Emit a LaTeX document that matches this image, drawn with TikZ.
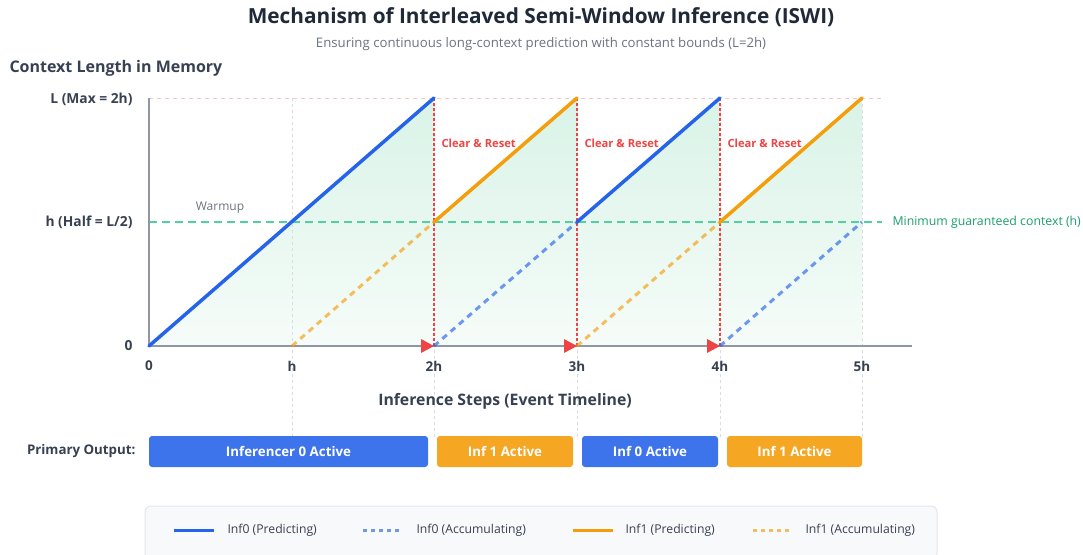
\documentclass[tikz,border=0pt]{standalone}
\usepackage{fontspec}
\setmainfont{Open Sans}
\usetikzlibrary{calc}
\definecolor{txtdark}{HTML}{1F2937}
\definecolor{txtmid}{HTML}{374151}
\definecolor{txtgray}{HTML}{6B7280}
\definecolor{blueC}{HTML}{2563EB}
\definecolor{orangeC}{HTML}{F59E0B}
\definecolor{boxblue}{HTML}{3D74EB}
\definecolor{boxorange}{HTML}{F5A623}
\definecolor{greenL}{HTML}{4FD1A0}
\definecolor{greenT}{HTML}{1A9E6A}
\definecolor{redC}{HTML}{EF4444}
\definecolor{pinkL}{HTML}{F9C4C4}
\definecolor{axisC}{HTML}{9096A3}
\definecolor{gridC}{HTML}{D9DCE1}
\definecolor{fillTop}{HTML}{D9F3E7}
\definecolor{fillBot}{HTML}{F6FCF9}
\definecolor{legBg}{HTML}{F8F9FB}
\definecolor{legBd}{HTML}{E3E6EA}
\tikzset{
  pred/.style={line width=3.5pt, line cap=round},
  accum/.style={line width=3pt, dash pattern=on 6pt off 5pt, opacity=0.65},
  reset/.style={redC, line width=1.6pt, dash pattern=on 3pt off 2pt},
  grid/.style={gridC, line width=0.8pt, dash pattern=on 3pt off 3pt},
  ylab/.style={anchor=east, font=\bfseries\fontsize{13.8}{15}\selectfont, text=txtmid},
  xlab/.style={anchor=center, font=\bfseries\fontsize{13.5}{15}\selectfont, text=txtmid},
  clr/.style={anchor=west, font=\bfseries\fontsize{11.2}{12}\selectfont, text=redC},
  actbox/.style={rounded corners=3pt, minimum height=31pt, inner sep=0pt, text=white, font=\bfseries\fontsize{13.3}{15}\selectfont},
  legtxt/.style={anchor=west, font=\fontsize{12.2}{13}\selectfont, text=txtmid},
  arrtri/.style={fill=redC}
}
\begin{document}
\begin{tikzpicture}[x=1pt,y=-1pt]
\useasboundingbox (0,0) rectangle (1083,554);
% key coordinates
\coordinate (o) at (149,346);
\foreach \n/\x in {0/149,1/292,2/434,3/577,4/720,5/862}{
  \coordinate (b\n) at (\x,346);
  \coordinate (m\n) at (\x,222);
  \coordinate (t\n) at (\x,98);
}
% fill
\shade[top color=fillTop, bottom color=fillBot]
  (b0) -- (t2) -- (m2) -- (t3) -- (m3) -- (t4) -- (m4) -- (t5) -- (b5) -- cycle;
% grid verticals
\foreach \n in {1,2,3,4,5}{
  \draw[grid] (t\n) -- ++(0,339);
}
% top dashed line
\coordinate (tEnd) at (882,98);
\draw[pinkL, line width=1pt, dash pattern=on 4pt off 4pt] (t0) -- (tEnd);
% green dashed line
\coordinate (gEnd) at (882,222);
\draw[greenL, line width=1.6pt, dash pattern=on 8pt off 5pt] (m0) -- (gEnd);
\node[anchor=west, text=greenT, font=\fontsize{12.3}{14}\selectfont] (mingc) at (889,222) {Minimum guaranteed context (h)};
% axes
\coordinate (xEnd) at (912,346);
\draw[axisC, line width=2pt] (t0) -- (b0) -- (xEnd);
% reset lines
\foreach \n in {2,3,4}{
  \draw[reset] (t\n) -- (b\n);
  \fill[arrtri] (b\n) -- ++(-13,-7) -- ++(0,14) -- cycle;
  \node[clr] (clr\n) at ($(t\n)+(4,45)$) {Clear \& Reset};
}
% accumulating
\draw[accum, orangeC] (b1) -- (m2);
\draw[accum, blueC] (b2) -- (m3);
\draw[accum, orangeC] (b3) -- (m4);
\draw[accum, blueC] (b4) -- (m5);
% predicting
\draw[pred, blueC] (b0) -- (t2);
\draw[pred, orangeC] (m2) -- (t3);
\draw[pred, blueC] (m3) -- (t4);
\draw[pred, orangeC] (m4) -- (t5);
% labels
\node[anchor=center, text=txtgray, font=\fontsize{12}{14}\selectfont] (warm) at (220,208) {Warmup};
\node[ylab] (yL) at (136,99) {L (Max = 2h)};
\node[ylab] (yh) at (136,222) {h (Half = L/2)};
\node[ylab] (y0) at (136,346) {0};
\foreach \n/\l in {0/0,1/h,2/2h,3/3h,4/4h,5/5h}{
  \node[xlab] (xl\n) at ($(b\n)+(0,20)$) {\l};
}
\node[font=\bfseries\fontsize{15.8}{18}\selectfont, text=txtmid] (xtitle) at (505,401) {Inference Steps (Event Timeline)};
\node[anchor=west, font=\bfseries\fontsize{16}{18}\selectfont, text=txtmid] (ytitle) at (6,68) {Context Length in Memory};
\node[font=\bfseries\fontsize{20.8}{24}\selectfont, text=txtdark] (title) at (541,17) {Mechanism of Interleaved Semi-Window Inference (ISWI)};
\node[font=\fontsize{13.2}{15}\selectfont, text=txtgray] (sub) at (541,44) {Ensuring continuous long-context prediction with constant bounds (L=2h)};
% primary output
\node[anchor=east, font=\bfseries\fontsize{13.3}{15}\selectfont, text=txtmid] (po) at (139,451) {Primary Output:};
\node[actbox, fill=boxblue, minimum width=279pt] (a1) at (288.5,451.5) {Inferencer 0 Active};
\node[actbox, fill=boxorange, minimum width=136pt] (a2) at (505,451.5) {Inf 1 Active};
\node[actbox, fill=boxblue, minimum width=136pt] (a3) at (650,451.5) {Inf 0 Active};
\node[actbox, fill=boxorange, minimum width=135pt] (a4) at (794.5,451.5) {Inf 1 Active};
% legend
\draw[legBd, fill=legBg, line width=1pt, rounded corners=6pt] (145,506) rectangle (937,560);
\coordinate (l1a) at (174,530); \coordinate (l1b) at (214,530);
\draw[blueC, line width=3pt] (l1a) -- (l1b);
\node[legtxt] (lt1) at (224,530) {Inf0 (Predicting)};
\coordinate (l2a) at (363,530); \coordinate (l2b) at (401,530);
\draw[blueC, opacity=0.65, line width=3pt, dash pattern=on 4pt off 4pt] (l2a) -- (l2b);
\node[legtxt] (lt2) at (413,530) {Inf0 (Accumulating)};
\coordinate (l3a) at (573,530); \coordinate (l3b) at (613,530);
\draw[orangeC, line width=3pt] (l3a) -- (l3b);
\node[legtxt] (lt3) at (622,530) {Inf1 (Predicting)};
\coordinate (l4a) at (753,530); \coordinate (l4b) at (790,530);
\draw[orangeC, opacity=0.65, line width=3pt, dash pattern=on 4pt off 4pt] (l4a) -- (l4b);
\node[legtxt] (lt4) at (802,530) {Inf1 (Accumulating)};
\end{tikzpicture}
\end{document}
